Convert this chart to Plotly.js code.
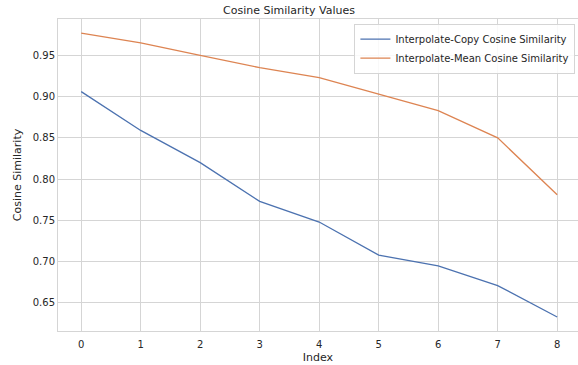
<!DOCTYPE html>
<html><head><meta charset="utf-8">
<script src="https://cdn.plot.ly/plotly-3.0.1.min.js"></script>
<style>html,body{margin:0;padding:0;background:#fff;}#c{width:578px;height:365px;}</style>
</head><body><div id="c"></div>
<script>
const idx = [0,1,2,3,4,5,6,7,8];
const copySim = [0.906,0.859,0.820,0.773,0.748,0.708,0.695,0.671,0.633];
const meanSim = [0.977,0.965,0.950,0.935,0.923,0.903,0.883,0.850,0.781];
const yTicks = [0.65,0.70,0.75,0.80,0.85,0.90,0.95];
const xTicks = idx;
const F = 'DejaVu Sans, sans-serif';
const traces = [
 {x: idx, y: copySim, mode:'lines', name:'Interpolate-Copy Cosine Similarity', line:{color:'#4c72b0', width:1.3}},
 {x: idx, y: meanSim, mode:'lines', name:'Interpolate-Mean Cosine Similarity', line:{color:'#dd8452', width:1.3}}
];
const layout = {
 width:578, height:365,
 margin:{l:58, r:0, t:19, b:34, pad:0},
 paper_bgcolor:'#fff', plot_bgcolor:'#fff',
 font:{family:F, size:10, color:'#262626'},
 title:{text:'Cosine Similarity Values', font:{family:F, size:11, color:'#262626'}, x:0.5, xanchor:'center', y:0.972, yanchor:'middle'},
 xaxis:{range:[-0.39,8.35], tickvals:xTicks, ticktext:xTicks.map(String), showgrid:true, gridcolor:'#d5d5d5', gridwidth:1,
   zeroline:false, showline:true, linecolor:'#d5d5d5', mirror:true, ticks:'outside', ticklen:4, tickcolor:'rgba(0,0,0,0)',
   tickfont:{family:F,size:10,color:'#262626'},
   title:{text:'Index', font:{family:F,size:11,color:'#262626'}, standoff:4}},
 yaxis:{range:[0.616,0.994], tickvals:yTicks, ticktext:yTicks.map(v=>v.toFixed(2)), showgrid:true, gridcolor:'#d5d5d5', gridwidth:1,
   zeroline:false, showline:true, linecolor:'#d5d5d5', mirror:true, ticks:'', ticklen:0,
   tickfont:{family:F,size:10,color:'#262626'},
   title:{text:'Cosine Similarity', font:{family:F,size:11,color:'#262626'}, standoff:8}},
 legend:{x:0.995, y:0.985, xanchor:'right', yanchor:'top', bgcolor:'rgba(255,255,255,0.85)', bordercolor:'#d5d5d5', borderwidth:1,
   font:{family:F,size:10,color:'#262626'}, tracegroupgap:0, itemwidth:30},
 showlegend:true
};
Plotly.newPlot('c', traces, layout, {staticPlot:true, displayModeBar:false});
</script></body></html>
